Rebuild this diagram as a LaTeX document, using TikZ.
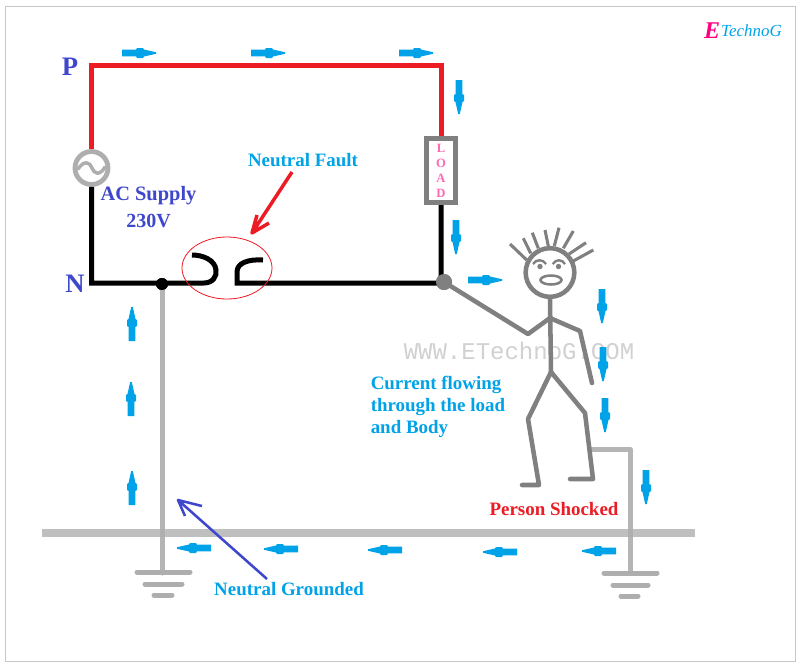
\documentclass[tikz,border=0pt]{standalone}
\usepackage{fontspec}
\setmainfont{Liberation Serif}
\setmonofont{Liberation Mono}
\usetikzlibrary{positioning}
\definecolor{flowblue}{HTML}{00A2E8}
\definecolor{labelblue}{HTML}{3F48CC}
\definecolor{wirered}{HTML}{ED1C24}
\definecolor{bodygray}{HTML}{808080}
\definecolor{groundgray}{HTML}{AEAEAE}
\definecolor{loadpink}{HTML}{FF69B4}
\definecolor{brandpink}{HTML}{FF0080}
\tikzset{
  wire/.style={line width=3.75pt, line join=miter},
  groundwire/.style={line width=3.75pt, groundgray, line cap=round, line join=round},
  bodyline/.style={line width=3.4pt, bodygray, line cap=round, line join=round},
  hairline/.style={line width=2.3pt, bodygray},
  flowlabel/.style={inner sep=0pt, font=\fontsize{14.2}{16.5}\selectfont\bfseries, text=flowblue},
  supplylabel/.style={inner sep=0pt, font=\fontsize{15.3}{16}\selectfont\bfseries, text=labelblue},
  flowarrow/.pic={\fill[flowblue] (0,-3.3) -- (14,-3.3) -- (15,-5) -- (21,-5) -- (22,-3.5) -- (34,-0.8) -- (34,0.8) -- (22,3.5) -- (21,5) -- (15,5) -- (14,3.3) -- (0,3.3) -- cycle;}
}
\begin{document}
\begin{tikzpicture}[x=0.75pt, y=-0.75pt]
\useasboundingbox (0,0) rectangle (803,669);
\fill[white] (0,0) rectangle (803,669);
\draw[line width=0.75pt, black!22] (5,6) rectangle (795,661);
\node [inner sep=0pt, font=\fontsize{18}{18}\selectfont\ttfamily, text=black!18] (watermark) at (519,351) {WWW.ETechnoG.COM};

% brand
\node [inner sep=0pt, font=\fontsize{18}{18}\selectfont\bfseries\itshape, text=brandpink] (brande) at (712,31) {E};
\node [inner sep=0pt, right=0.5pt of brande, font=\fontsize{12.7}{16}\selectfont\itshape, text=flowblue] (brand) {TechnoG};

% circuit
\node [draw=groundgray, line width=3.6pt, circle, minimum size=24.75pt, inner sep=0pt] (source) at (91.5,168) {};
\draw[groundgray, line width=2.6pt, line cap=round] (78,169) .. controls (84,160) and (90,162) .. (92,168) .. controls (94,174) and (100,176) .. (105,167);
\node [draw=bodygray, line width=3.75pt, minimum width=21.75pt, minimum height=48pt, inner sep=0pt, align=center, font=\fontsize{9.5}{11.25}\selectfont\bfseries, text=loadpink] (load) at (441,170.5) {L\\O\\A\\D};
\coordinate (topleft) at (91.5,65);
\coordinate (topright) at (441,65);
\coordinate (botleft) at (91.5,283);
\coordinate (leftend) at (204,283);
\coordinate (rightend) at (237,283);
\coordinate (botright) at (441,283);
\node [circle, fill=bodygray, minimum size=12pt, inner sep=0pt] (touch) at (444,282) {};
\node [circle, fill=black, minimum size=9pt, inner sep=0pt] (neutraldot) at (162,284) {};
\draw[wire, wirered] (source.north) -- (topleft) -- (topright) -- (load.north);
\draw[wire] (source.south) -- (botleft) -- (leftend) .. controls (213,283) and (217,276) .. (216,270) .. controls (215,260) and (203,255) .. (192,255);
\draw[wire] (263,260) .. controls (248,259) and (237,263) .. (237,272) -- (rightend) -- (botright) -- (load.south);
\draw[wirered, line width=0.6pt] (227,268) ellipse (45 and 31);
\node [circle, fill=bodygray, minimum size=12pt, inner sep=0pt] at (touch) {};

% ground
\coordinate (leftgnd) at (162,573);
\coordinate (rightgnd) at (630,573);
\coordinate (legtap) at (590,449);
\coordinate (tapcorner) at (630,449);
\node [minimum width=490pt, minimum height=6pt, inner sep=0pt, fill=black!25] (earth) at (368.5,533) {};
\draw[groundwire, opacity=0.9] (neutraldot.center) -- (leftgnd);
\draw[groundwire] (137,572) -- (190,572) (145,584) -- (182,584) (154,595) -- (172,595);
\draw[groundwire, opacity=0.9] (legtap) -- (tapcorner) -- (rightgnd);
\draw[groundwire] (604,573) -- (657,573) (613,585) -- (648,585) (621,596) -- (638,596);
\node [circle, fill=black, minimum size=9pt, inner sep=0pt] at (neutraldot) {};

% person
\node [draw=bodygray, line width=3.4pt, circle, minimum size=36.5pt, inner sep=0pt] (head) at (550,272.5) {};
\coordinate (shoulder) at (550,318);
\coordinate (hip) at (551,372);
\draw[bodyline] (head.south) -- (hip);
\draw[bodyline] (touch.center) -- (528,334) -- (shoulder) -- (580,331) -- (592,383);
\draw[bodyline] (522,485) -- (539,485) -- (528,419) -- (hip) -- (585,413) -- (593,479) -- (570,479);
\draw[hairline] (526.7,260) -- (510,244) (530.7,253.3) -- (523.3,238.3) (538.3,248.3) -- (532.3,232.7) (548.3,246) -- (545,230) (554.3,246) -- (559,227.7) (563.3,248.3) -- (573.3,231) (569,254) -- (586,242.7) (573.3,261) -- (593.3,250);
\draw[bodygray, line width=1.8pt] (533,264) .. controls (536,259) and (543,259) .. (546,264) (552.7,264) .. controls (556,259) and (562,259) .. (565,264);
\fill[bodygray] (540,266.5) circle (2.7) (558.5,266.5) circle (2.7);
\draw[bodygray, line width=1.9pt] (551,280) ellipse (10.5 and 4.5);

% pointers
\coordinate (faultfrom) at (292,172);
\coordinate (faulttip) at (252,233);
\draw[wirered, line width=2.6pt, line join=round] (faultfrom) -- (faulttip) (257,215) -- (faulttip) -- (269,223);
\coordinate (groundfrom) at (267,579);
\coordinate (groundtip) at (178,500);
\draw[labelblue, line width=1.9pt, line join=round] (groundfrom) -- (groundtip) (202,506) -- (groundtip) -- (185,516);

% current arrows
\foreach \px/\py in {122/53, 251/53, 399/53, 468/280}
  \pic at (\px,\py) {flowarrow};
\foreach \px/\py in {459/80, 456/220, 602/289, 603/347, 605/398, 646/470}
  \pic[rotate=-90] at (\px,\py) {flowarrow};
\foreach \px/\py in {616/551, 517/552, 402/550, 298/549, 211/548}
  \pic[rotate=180] at (\px,\py) {flowarrow};
\foreach \px/\py in {132/505, 131/416, 132/341}
  \pic[rotate=90] at (\px,\py) {flowarrow};

% labels
\node [inner sep=0pt, font=\fontsize{20}{20}\selectfont\bfseries, text=labelblue] (plabel) at (70,67) {P};
\node [inner sep=0pt, font=\fontsize{20}{20}\selectfont\bfseries, text=labelblue] (nlabel) at (75,284) {N};
\node [supplylabel] (supply) at (148.5,196) {AC Supply};
\node [supplylabel, font=\fontsize{15}{16}\selectfont\bfseries, below=6pt of supply] (volts) {230V};
\node [flowlabel] (faultlabel) at (303,160) {Neutral Fault};
\node [flowlabel, align=left, anchor=north west] (currentlabel) at (370.5,376) {Current flowing\\through the load\\and Body};
\node [flowlabel, text=wirered] (shocked) at (554,509) {Person Shocked};
\node [flowlabel] (groundlabel) at (289,589) {Neutral Grounded};
\end{tikzpicture}
\end{document}
